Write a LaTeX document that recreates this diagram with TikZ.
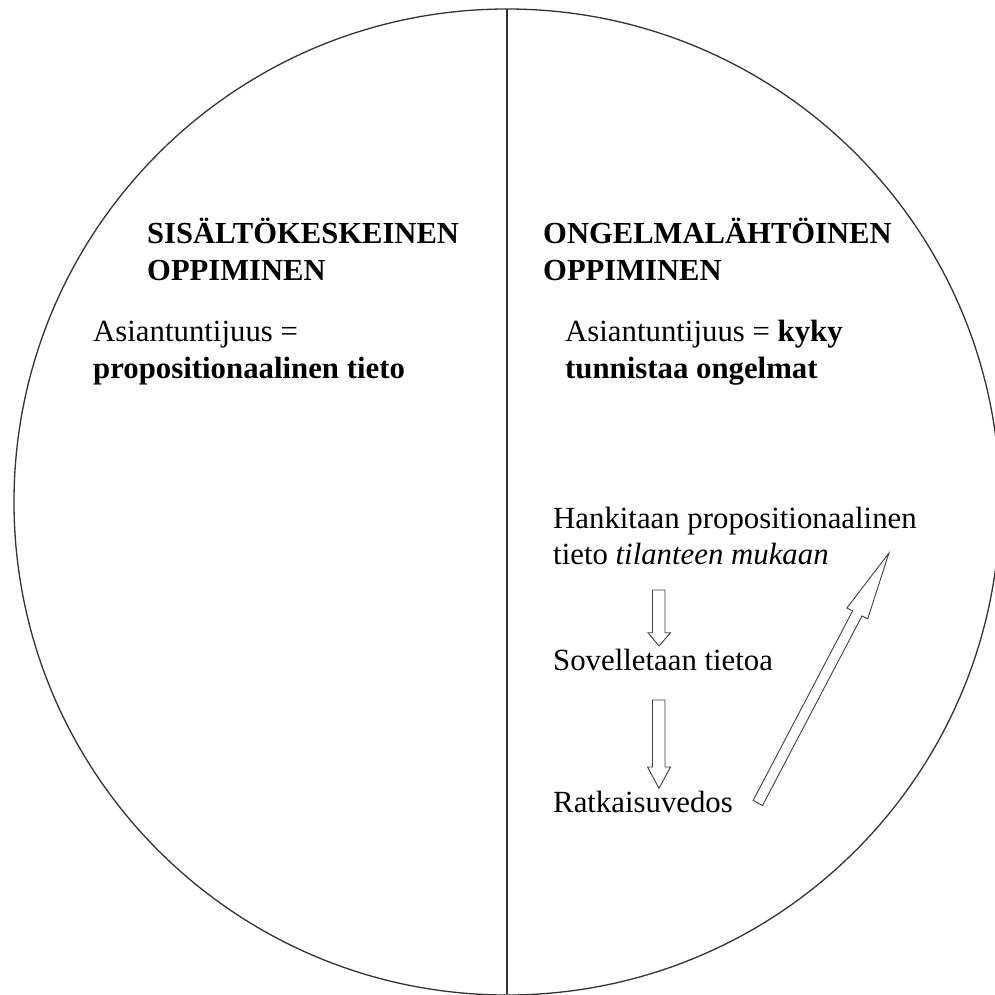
\documentclass[tikz,border=0pt]{standalone}
\usepackage{fontspec}
\setmainfont{Liberation Serif}
\begin{document}
\begin{tikzpicture}[x=1pt,y=-1pt,
  txt/.style={anchor=base west, inner sep=0pt, font=\fontsize{30.8}{37}\selectfont},
  ttl/.style={anchor=base west, inner sep=0pt, font=\fontsize{30.6}{37}\selectfont\bfseries},
  outline/.style={line width=1.3pt, draw=black!80},
  blockarrow/.style={draw=black!75, line width=0.9pt, fill=white, line join=miter}]
\useasboundingbox (0,0) rectangle (995,994);

% outer circle, cut by the page edge
\begin{scope}
  \clip (0,0) rectangle (995,994);
  \draw[outline] (507,502) circle[radius=493pt];
\end{scope}

% dividing line
\coordinate (divtop) at (507,9);
\coordinate (divbot) at (507,994);
\draw[outline] (divtop) -- (divbot);

% left half
\node[ttl] (lt1) at (147,243) {SISÄLTÖKESKEINEN};
\node[ttl] (lt2) at (147,280) {OPPIMINEN};
\node[txt] (la1) at (93,341) {Asiantuntijuus =};
\node[txt] (la2) at (93,378) {\bfseries propositionaalinen tieto};

% right half
\node[ttl] (rt1) at (543,243) {ONGELMALÄHTÖINEN};
\node[ttl] (rt2) at (543,280) {OPPIMINEN};
\node[txt] (ra1) at (565,341) {Asiantuntijuus = \textbf{kyky}};
\node[txt] (ra2) at (565,378) {\bfseries tunnistaa ongelmat};

\node[txt] (h1) at (553,528) {Hankitaan propositionaalinen};
\node[txt] (h2) at (553,564) {tieto \textit{tilanteen mukaan}};
\node[txt] (s1) at (553,670) {Sovelletaan tietoa};
\node[txt] (r1) at (553,812) {Ratkaisuvedos};

% block arrows of the cycle
\draw[blockarrow] (652.5,590) -- (665,590) -- (665,632.7) -- (670.5,632.7)
  -- (659,646) -- (648,632.7) -- (652.5,632.7) -- cycle;
\draw[blockarrow] (652.5,700) -- (665,700) -- (665,767) -- (670.5,767)
  -- (659,788.3) -- (647.5,767) -- (652.5,767) -- cycle;
\draw[blockarrow] (753.1,800.5) -- (852.6,610.9) -- (846.9,608) -- (888.9,553.1)
  -- (867.7,618.8) -- (862.0,615.9) -- (762.5,805.5) -- cycle;
\end{tikzpicture}
\end{document}
